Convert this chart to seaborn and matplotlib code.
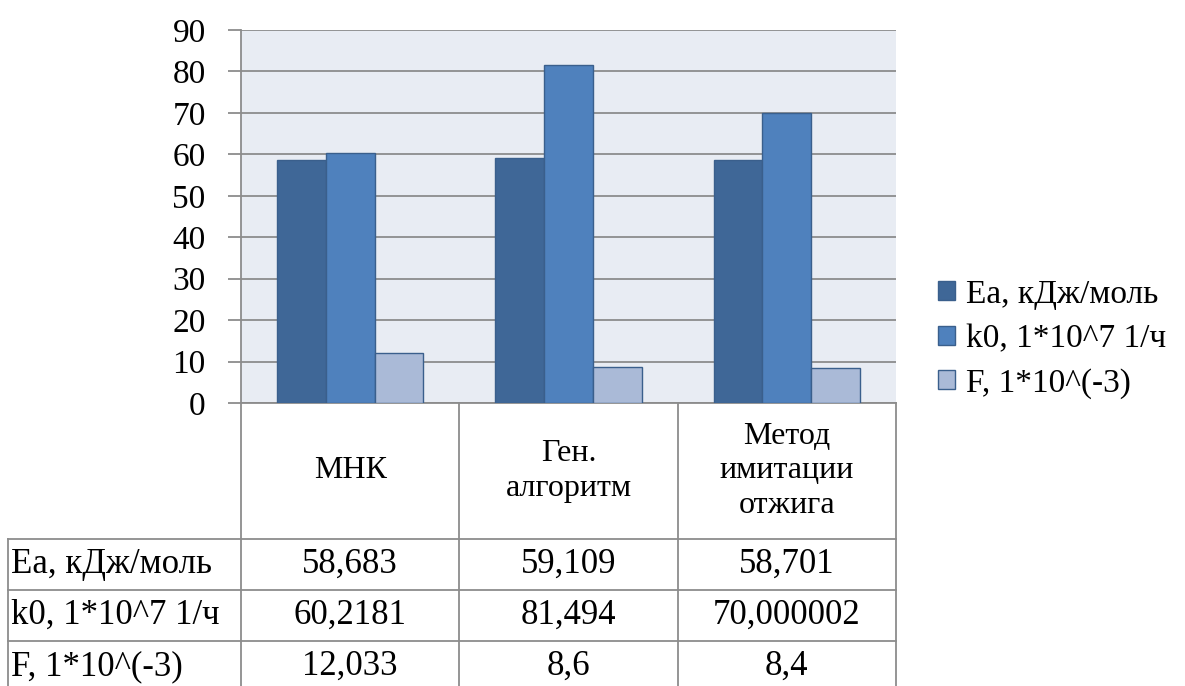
import numpy as np
import pandas as pd
import matplotlib
matplotlib.use("Agg")
import matplotlib.pyplot as plt
import seaborn as sns
from matplotlib.transforms import blended_transform_factory
from matplotlib.lines import Line2D
from matplotlib import font_manager as fm
from matplotlib.font_manager import FontProperties

# ---- data ----
categories = ["МНК", "Ген.\nалгоритм", "Метод\nимитации\nотжига"]
series = ["Ea, кДж/моль", "k0, 1*10^7 1/ч", "F, 1*10^(-3)"]
ea_values = [58.683, 59.109, 58.701]
k0_values = [60.2181, 81.494, 70.000002]
f_values = [12.033, 8.6, 8.4]
yticks = [0, 10, 20, 30, 40, 50, 60, 70, 80, 90]
colors = ["#3F6797", "#4F81BD", "#AABAD7"]

all_values = [ea_values, k0_values, f_values]
df = pd.DataFrame({
    "cat": categories * 3,
    "series": np.repeat(series, 3),
    "value": ea_values + k0_values + f_values,
})

SERIF_PATH = fm.findfont(FontProperties(family="Liberation Serif"))
FS = 24
fp = FontProperties(fname=SERIF_PATH, size=FS)
fp_tab = FontProperties(fname=SERIF_PATH, size=25)
fp_head = FontProperties(fname=SERIF_PATH, size=FS - 1)
GRID = "#8C8C8C"

W, H = 1185, 686
fig = plt.figure(figsize=(W / 100, H / 100), dpi=100)
ax = fig.add_axes([241 / W, 1 - 403 / H, (896 - 241) / W, (403 - 30) / H])

sns.barplot(data=df, x="cat", y="value", hue="series", order=categories,
            hue_order=series, palette=colors, saturation=1, width=0.67,
            errorbar=None, edgecolor="#3A5F8C", linewidth=1.0, ax=ax, zorder=3)

ax.set_facecolor("#E8ECF3")
ax.set_xlim(-0.5, 2.5)
ax.set_ylim(0, 90)
ax.set_yticks(yticks)
ax.set_yticklabels([str(t) for t in yticks], fontproperties=fp)
ax.set_xticks([])
ax.set_xlabel("")
ax.set_ylabel("")
ax.yaxis.grid(True, color=GRID, lw=1.3, zorder=0)
ax.xaxis.grid(False)
ax.set_axisbelow(True)
for s in ["top", "right"]:
    ax.spines[s].set_visible(False)
for s in ["left", "bottom"]:
    ax.spines[s].set_color(GRID)
    ax.spines[s].set_linewidth(1.3)
ax.tick_params(axis="y", direction="out", length=9.4, width=1.3, color=GRID,
               pad=16, left=True, labelcolor="black")

# legend
sns.move_legend(ax, loc="center left", bbox_to_anchor=(938 / W, 1 - 339 / H),
                bbox_transform=fig.transFigure, frameon=False, title=None,
                prop=fp, handlelength=0.5, handleheight=0.5,
                handletextpad=0.35, labelspacing=0.42, borderpad=0,
                borderaxespad=0)

# ---- data table ----
pos = ax.get_position()
fy = lambda py: 1 - py / H
tr = blended_transform_factory(ax.transData, fig.transFigure)
lkw = dict(color=GRID, lw=1.3)

for xb in [-0.5, 0.5, 1.5, 2.5]:
    fig.add_artist(Line2D([xb, xb], [fy(403), 0], transform=tr, **lkw))
fig.add_artist(Line2D([8 / W, 8 / W], [fy(539), 0], transform=fig.transFigure, **lkw))
for yl in [539, 590, 641]:
    fig.add_artist(Line2D([8 / W, pos.x1], [fy(yl), fy(yl)],
                          transform=fig.transFigure, **lkw))

for i, c in enumerate(categories):
    fig.text(i, fy(471), c, transform=tr, ha="center", va="center",
             fontproperties=fp_head, linespacing=1.25)

row_centers = [564.5, 615.5, 666.5]
for r, (name, vals) in enumerate(zip(series, all_values)):
    fig.text(11 / W, fy(row_centers[r]), name, ha="left", va="center",
             fontproperties=fp_tab)
    for i, v in enumerate(vals):
        fig.text(i, fy(row_centers[r]), str(v).replace(".", ","), transform=tr,
                 ha="center", va="center", fontproperties=fp_tab)

fig.savefig("out.png", dpi=100)
